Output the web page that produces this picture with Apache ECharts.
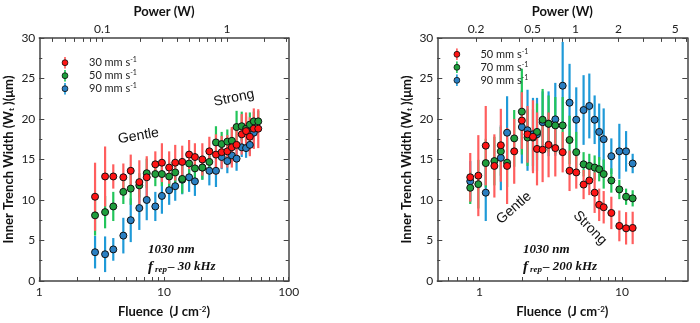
<!DOCTYPE html>
<html><head><meta charset="utf-8">
<script src="https://cdn.jsdelivr.net/npm/echarts@6/dist/echarts.min.js"></script>
<style>html,body{margin:0;padding:0;background:#fff}#c{width:700px;height:323px}</style>
</head><body><div id="c"></div>
<script>
// ---------------- Left panel: 1030 nm, f_rep = 30 kHz ----------------
const fluenceL = [2.8, 3.37, 3.92, 4.72, 5.41, 6.34, 7.27, 8.52, 9.62, 11.0, 12.3, 14.0, 15.9, 17.7, 20.3, 23.1, 26.1, 29.0, 32.2, 35.0, 38.2, 42.0, 45.5, 48.8, 52.5, 57.0];
const red30   = [10.4, 12.9, 12.9, 12.8, 13.6, 12.2, 12.8, 14.4, 14.6, 14.0, 14.6, 14.7, 15.6, 15.3, 15.0, 16.0, 15.6, 15.9, 16.0, 16.5, 16.8, 18.1, 18.5, 17.8, 18.8, 18.8];
const red30Err = [4.2, 3.7, 1.5, 1.7, 2.0, 2.7, 2.6, 1.6, 2.4, 2.0, 2.2, 2.0, 1.8, 1.7, 2.0, 1.8, 2.5, 2.0, 2.0, 2.5, 2.2, 2.5, 2.3, 2.4, 2.5, 2.4];
const green50  = [8.1, 8.5, 9.2, 11.0, 11.4, 11.8, 13.3, 13.2, 13.2, 12.9, 13.4, 12.6, 14.5, 13.9, 14.0, 14.7, 17.1, 16.9, 17.2, 17.3, 19.0, 19.1, 18.8, 19.3, 19.7, 19.7];
const green50Err = [2.5, 2.0, 1.8, 1.5, 2.0, 1.5, 1.8, 1.5, 1.5, 1.8, 1.5, 1.8, 1.5, 1.5, 1.5, 1.5, 2.0, 1.5, 1.5, 1.5, 2.0, 1.8, 1.5, 1.5, 1.2, 1.3];
const fluenceLBlue = [2.8, 3.37, 3.92, 4.72, 5.41, 6.34, 7.27, 8.52, 9.62, 11.0, 12.3, 14.0, 15.9, 17.7, 20.3, 23.1, 26.1, 29.0, 32.2, 35.0, 38.2, 42.0, 45.5, 48.8, 52.5];
const blue90L  = [3.55, 3.3, 3.9, 5.6, 7.5, 9.0, 10.0, 9.2, 10.5, 11.2, 11.7, 12.5, 12.8, 12.3, 14.0, 13.6, 13.6, 15.3, 14.8, 15.5, 15.1, 16.5, 16.4, 16.8, 18.3];
const blue90LErr = [2.0, 2.2, 1.4, 2.2, 2.7, 2.7, 2.5, 1.8, 2.2, 1.8, 1.8, 1.8, 1.8, 1.8, 1.5, 1.8, 2.0, 1.5, 1.5, 1.2, 1.5, 1.2, 1.2, 1.2, 1.0];

// ---------------- Right panel: 1030 nm, f_rep = 200 kHz ----------------
const fluenceR = [0.86, 0.98, 1.105, 1.27, 1.41, 1.56, 1.75, 1.98, 2.17, 2.37, 2.53, 2.77, 3.05, 3.40, 3.83, 4.28, 4.77, 5.37, 5.89, 6.42, 6.91, 7.43, 8.41, 9.57, 10.67, 11.87];
const red50   = [12.8, 13.0, 16.7, 14.2, 16.75, 14.2, 16.0, 19.8, 18.1, 17.8, 16.3, 16.2, 16.8, 16.4, 15.9, 13.6, 13.4, 11.9, 12.4, 10.9, 9.4, 9.1, 8.4, 6.8, 6.5, 6.55];
const red50Err = [3.0, 5.0, 4.9, 3.9, 4.5, 4.7, 4.0, 3.5, 3.5, 4.5, 4.5, 4.0, 4.0, 3.5, 2.5, 2.5, 2.0, 1.8, 1.8, 2.5, 2.0, 2.0, 2.0, 1.9, 2.0, 2.0];
const green70  = [11.5, 11.95, 14.55, 14.8, 16.0, 14.6, 17.6, 20.9, 17.7, 17.7, 18.4, 19.9, 19.4, 19.2, 19.2, 17.4, 15.9, 14.4, 14.2, 14.0, 13.8, 13.2, 12.4, 11.3, 10.4, 10.2];
const green70Err = [2.0, 3.0, 3.0, 3.0, 3.0, 3.0, 3.5, 5.3, 3.5, 3.5, 3.5, 3.8, 3.5, 3.5, 3.5, 3.0, 2.5, 1.5, 1.5, 1.5, 1.5, 1.8, 1.5, 1.2, 1.0, 1.0];
const fluenceRBlue = [0.86, 1.105, 1.41, 1.56, 1.98, 2.17, 2.37, 2.53, 2.77, 3.05, 3.40, 3.83, 4.28, 4.77, 5.37, 5.89, 6.42, 6.91, 7.43, 8.41, 9.57, 10.67, 11.87];
const blue90R  = [12.3, 10.9, 15.2, 18.3, 19.0, 18.6, 18.1, 18.1, 19.6, 19.4, 19.95, 24.1, 22.0, 19.9, 21.1, 21.6, 19.9, 18.4, 17.5, 15.4, 16.0, 16.0, 14.5];
const blue90RErr = [2.5, 3.5, 4.0, 4.5, 4.5, 5.0, 4.5, 4.5, 3.8, 4.0, 4.5, 5.4, 4.8, 4.0, 4.3, 4.0, 3.0, 3.5, 3.8, 2.2, 3.4, 2.5, 1.2];

// ---------------- Axis ticks / labels ----------------
const fluenceLabelsL = [1, 10, 100];
const fluenceTicksL = [1, 2, 3, 4, 5, 6, 7, 8, 9, 10, 20, 30, 40, 50, 60, 70, 80, 90, 100];
const powerLabelsL = [0.1, 1];
const powerTicksL = [0.04, 0.05, 0.06, 0.07, 0.08, 0.09, 0.1, 0.2, 0.3, 0.4, 0.5, 0.6, 0.7, 0.8, 0.9, 1, 2, 3];
const fluenceLabelsR = [1, 10];
const fluenceTicksR = [0.6, 0.7, 0.8, 0.9, 1, 2, 3, 4, 5, 6, 7, 8, 9, 10, 20];
const powerLabelsR = [0.2, 0.5, 1, 2, 5];
const powerTicksR = [0.2, 0.3, 0.4, 0.5, 0.6, 0.7, 0.8, 0.9, 1, 2, 3, 4, 5, 6];
const fluenceRangeL = [1, 100];
const powerRangeL = [0.03124, 3.124];
const fluenceRangeR = [0.505, 28.7];
const powerRangeR = [0.107, 6.08];
const widthRange = [0, 30];

const legendNamesL = ['30', '50', '90'];
const legendNamesR = ['50', '70', '90'];

// ---------------- Styling ----------------
const FONT = 'Lato, "Open Sans", sans-serif';
const AX = '#444';
const C = {
  red:   {fill: '#ff1414', bar: '#ff5e5e'},
  green: {fill: '#1f9e3c', bar: '#22c55a'},
  blue:  {fill: '#2a7fc2', bar: '#1f9ad8'}
};

function zip3(xs, ys, es) { return xs.map((x, i) => [x, ys[i], es[i]]); }

function errSeries(id, data, color, xi, yi) {
  return {
    id: id + '_err', type: 'custom', xAxisIndex: xi, yAxisIndex: yi, silent: true, z: 2,
    encode: {x: 0, y: 1}, data: data,
    renderItem: function (params, api) {
      const x = api.value(0), y = api.value(1), e = api.value(2);
      const p1 = api.coord([x, y + e]), p2 = api.coord([x, y - e]);
      return {type: 'line', shape: {x1: p1[0], y1: p1[1], x2: p2[0], y2: p2[1]},
              style: {stroke: color, lineWidth: 2.2}};
    }
  };
}
function dotSeries(name, data, color, xi, yi) {
  return {
    name: name, type: 'scatter', xAxisIndex: xi, yAxisIndex: yi, z: 5,
    symbol: 'circle', symbolSize: 7, data: data.map(d => [d[0], d[1]]),
    itemStyle: {color: color, borderColor: '#111', borderWidth: 1, opacity: 1}
  };
}
function iconFor(c) {
  const svg = "<svg xmlns='http://www.w3.org/2000/svg' width='8' height='13' viewBox='0 0 8 13'>" +
    "<line x1='4' y1='0' x2='4' y2='13' stroke='" + c.bar + "' stroke-width='1.8'/>" +
    "<circle cx='4' cy='6.5' r='3.2' fill='" + c.fill + "' stroke='#111' stroke-width='0.9'/></svg>";
  return 'image://data:image/svg+xml;charset=utf-8,' + encodeURIComponent(svg);
}

const labelStyle = {color: '#222', fontSize: 12, fontFamily: FONT};
const nameStyle = {
  color: '#111', fontSize: 13, fontWeight: 'bold', fontFamily: FONT,
  rich: {
    sup: {fontSize: 8, fontWeight: 'bold', fontFamily: FONT, color: '#111', verticalAlign: 'top'},
    sub: {fontSize: 8, fontWeight: 'bold', fontFamily: FONT, color: '#111', verticalAlign: 'bottom'}
  }
};

function logX(grid, pos, range, ticks, labels, name, nameGap, labelMargin) {
  return {
    gridIndex: grid, type: 'log', logBase: 10, position: pos, min: range[0], max: range[1],
    name: name, nameLocation: 'middle', nameGap: nameGap, nameTextStyle: nameStyle,
    axisLine: {show: true, onZero: false, lineStyle: {color: AX, width: 1.5}},
    axisTick: {show: true, inside: true, length: 4, customValues: ticks, lineStyle: {color: AX, width: 1}},
    axisLabel: Object.assign({margin: labelMargin, customValues: labels}, labelStyle),
    splitLine: {show: false}, minorTick: {show: false}, minorSplitLine: {show: false}
  };
}
function valY(grid, pos, showLabel, name) {
  return {
    gridIndex: grid, type: 'value', position: pos, min: widthRange[0], max: widthRange[1], interval: 5,
    name: name, nameLocation: 'middle', nameGap: 24, nameTextStyle: nameStyle,
    axisLine: {show: true, onZero: false, lineStyle: {color: AX, width: 1.5}},
    axisTick: {show: true, inside: true, length: 5, lineStyle: {color: AX, width: 1}},
    minorTick: {show: true, splitNumber: 2, length: 3, lineStyle: {color: AX, width: 1}},
    axisLabel: Object.assign({show: showLabel, margin: 4}, labelStyle),
    splitLine: {show: false}
  };
}

const yName = 'Inner Trench Width (W{sub|t} )(μm)';
const xName = 'Fluence  (J cm{sup|-2})';

const legendText = {
  fontSize: 11, fontFamily: FONT, color: '#222', lineHeight: 12,
  rich: {sup: {fontSize: 7, fontFamily: FONT, color: '#222', verticalAlign: 'top', lineHeight: 12}}
};
const legendFmt = function (name) { return name.split('_')[1] + ' mm s{sup|-1}'; };

const annFont = '"Liberation Serif", "Times New Roman", serif';
function frepText(x, y, val) {
  return {
    type: 'text', x: x, y: y, z: 10,
    style: {
      text: '{f|f}{s|rep}{t|– ' + val + ' kHz}', verticalAlign: 'middle',
      rich: {
        f: {fontFamily: annFont, fontStyle: 'italic', fontWeight: 'bold', fontSize: 15, fill: '#111', verticalAlign: 'middle'},
        s: {fontFamily: annFont, fontStyle: 'italic', fontWeight: 'bold', fontSize: 9, fill: '#111', verticalAlign: 'bottom', padding: [0, 1, 0, 2]},
        t: {fontFamily: annFont, fontStyle: 'italic', fontWeight: 'bold', fontSize: 13, fill: '#111', verticalAlign: 'middle'}
      }
    }
  };
}
function nmText(x, y) {
  return {type: 'text', x: x, y: y, z: 10,
    style: {text: '1030 nm', font: 'italic bold 13px ' + annFont, fill: '#111', verticalAlign: 'middle'}};
}
function regimeText(t, x, y, rot) {
  return {type: 'text', x: x, y: y, rotation: rot, z: 10,
    style: {text: t, font: '14px "Liberation Sans", Arial, sans-serif', fill: '#111', align: 'center', verticalAlign: 'middle'}};
}

const dL = {r: zip3(fluenceL, red30, red30Err), g: zip3(fluenceL, green50, green50Err), b: zip3(fluenceLBlue, blue90L, blue90LErr)};
const dR = {r: zip3(fluenceR, red50, red50Err), g: zip3(fluenceR, green70, green70Err), b: zip3(fluenceRBlue, blue90R, blue90RErr)};

const option = {
  animation: false,
  backgroundColor: '#fff',
  grid: [
    {left: 39.3, top: 32, width: 249.4, height: 250.3},
    {left: 437.3, top: 32.3, width: 250, height: 250}
  ],
  xAxis: [
    logX(0, 'bottom', fluenceRangeL, fluenceTicksL, fluenceLabelsL, xName, 24, 5),
    logX(0, 'top', powerRangeL, powerTicksL, powerLabelsL, 'Power (W)', 17, 3),
    logX(1, 'bottom', fluenceRangeR, fluenceTicksR, fluenceLabelsR, xName, 24, 5),
    logX(1, 'top', powerRangeR, powerTicksR, powerLabelsR, 'Power (W)', 17, 3)
  ],
  yAxis: [
    valY(0, 'left', true, yName),
    valY(0, 'right', false, ''),
    valY(1, 'left', true, yName),
    valY(1, 'right', false, '')
  ],
  legend: [
    {orient: 'vertical', left: 41, top: 51.7, itemWidth: 38, itemHeight: 12, itemGap: 1, selectedMode: false,
     data: [{name: 'L_' + legendNamesL[0], icon: iconFor(C.red)}, {name: 'L_' + legendNamesL[1], icon: iconFor(C.green)}, {name: 'L_' + legendNamesL[2], icon: iconFor(C.blue)}],
     formatter: legendFmt, textStyle: legendText},
    {orient: 'vertical', left: 433.4, top: 43.3, itemWidth: 37, itemHeight: 12, itemGap: 1, selectedMode: false,
     data: [{name: 'R_' + legendNamesR[0], icon: iconFor(C.red)}, {name: 'R_' + legendNamesR[1], icon: iconFor(C.green)}, {name: 'R_' + legendNamesR[2], icon: iconFor(C.blue)}],
     formatter: legendFmt, textStyle: legendText}
  ],
  series: [
    errSeries('Lb', dL.b, C.blue.bar, 0, 0),
    errSeries('Lg', dL.g, C.green.bar, 0, 0),
    errSeries('Lr', dL.r, C.red.bar, 0, 0),
    dotSeries('L_' + legendNamesL[2], dL.b, C.blue.fill, 0, 0),
    dotSeries('L_' + legendNamesL[1], dL.g, C.green.fill, 0, 0),
    dotSeries('L_' + legendNamesL[0], dL.r, C.red.fill, 0, 0),
    errSeries('Rb', dR.b, C.blue.bar, 2, 2),
    errSeries('Rg', dR.g, C.green.bar, 2, 2),
    errSeries('Rr', dR.r, C.red.bar, 2, 2),
    dotSeries('R_' + legendNamesR[2], dR.b, C.blue.fill, 2, 2),
    dotSeries('R_' + legendNamesR[1], dR.g, C.green.fill, 2, 2),
    dotSeries('R_' + legendNamesR[0], dR.r, C.red.fill, 2, 2)
  ],
  graphic: [
    nmText(148, 250), frepText(148, 267, '30'),
    nmText(523, 250), frepText(523, 267, '200'),
    regimeText('Gentle', 138.5, 136, 0.17),
    regimeText('Strong', 234, 98, 0.2),
    regimeText('Gentle', 514, 208, 0.72),
    regimeText('Strong', 590, 228, -0.8)
  ]
};

const chart = echarts.init(document.getElementById('c'), null, {renderer: 'canvas'});
chart.setOption(option);
</script>
</body></html>
